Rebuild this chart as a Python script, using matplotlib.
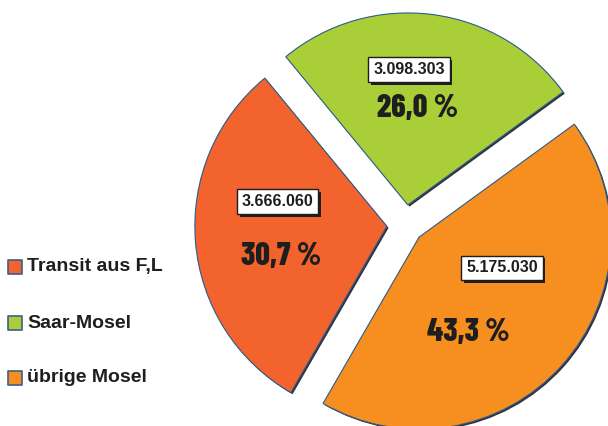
import matplotlib.pyplot as plt
import matplotlib.patheffects as pe

# Data
categories = ['Transit aus F,L', 'Saar-Mosel', 'übrige Mosel']
values = [3666060, 3098303, 5175030]
value_labels = ['3.666.060', '3.098.303', '5.175.030']
pct_labels = ['30,7 %', '26,0 %', '43,3 %']
colors = ['#F2632E', '#A9CE38', '#F68F1F']

# Layout (pixel coords, y up)
W, H = 608, 426
center = (405.3, H - 224.8)
radius = 192
explode = [18.5, 20, 18.5]
value_pos = [(277.5, H - 201.5), (409, H - 69.5), (502, H - 268)]
pct_pos = [(281.5, H - 256), (418, H - 109), (468, H - 333)]

sans = ['Liberation Sans', 'Arimo', 'DejaVu Sans']
narrow = ['Barlow Condensed', 'DejaVu Sans']
ink = '#1e1e1e'

fig = plt.figure(figsize=(W / 100, H / 100), dpi=100)
ax = fig.add_axes([0, 0, 1, 1])

wedges, _ = ax.pie(values, colors=colors, explode=explode, center=center,
                   radius=radius, startangle=240, counterclock=False,
                   frame=True,
                   wedgeprops=dict(edgecolor='#2a5c8a', linewidth=0.8))
for w in wedges:
    w.set_path_effects([pe.SimplePatchShadow(offset=(1.2, -1.2), shadow_rgbFace='#1b1b2b', alpha=0.9),
                        pe.Normal()])

# absolute values in boxes with a drop shadow
for txt, (x, y) in zip(value_labels, value_pos):
    t = ax.text(x, y, txt, ha='center', va='center', fontsize=11.5, fontweight='bold',
                family=sans, color=ink,
                bbox=dict(boxstyle='square,pad=0.3', fc='white', ec=ink, lw=1))
    t.get_bbox_patch().set_path_effects([
        pe.SimplePatchShadow(offset=(2, -2), shadow_rgbFace=ink, alpha=1), pe.Normal()])

# percentages
for txt, (x, y) in zip(pct_labels, pct_pos):
    ax.text(x, y, txt, ha='center', va='center', fontsize=23, fontweight=800,
            family=narrow, color=ink)

# legend
leg_y = [H - 267, H - 323, H - 378]
for cat, col, y in zip(categories, colors, leg_y):
    ax.scatter([15], [y], s=105, marker='s', c=col, edgecolors='#3b5f86', linewidths=1.2)
    ax.text(27, y, cat, ha='left', va='center', fontsize=14, fontweight='bold',
            family=sans, color=ink)

ax.set_xlim(0, W)
ax.set_ylim(0, H)
ax.set_aspect('equal')
ax.axis('off')

fig.savefig('out.png', dpi=100)
